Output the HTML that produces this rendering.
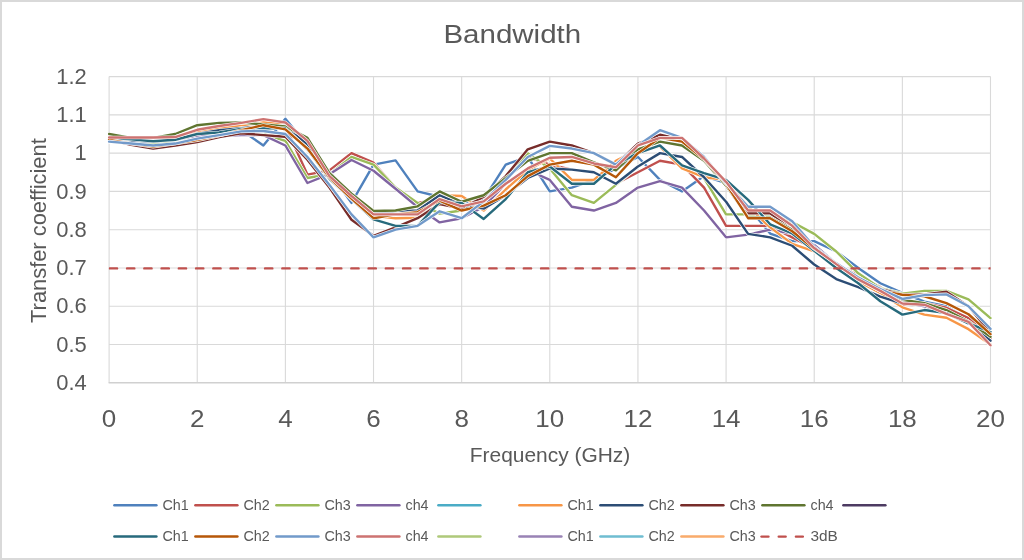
<!DOCTYPE html><html><head><meta charset="utf-8"><style>html,body{margin:0;padding:0;background:#fff;overflow:hidden}svg{display:block;will-change:transform}</style></head><body><svg width="1024" height="560" viewBox="0 0 1024 560">
<rect x="0" y="0" width="1024" height="560" fill="#ffffff"/>
<rect x="1" y="1" width="1022" height="558" fill="none" stroke="#d9d9d9" stroke-width="2"/>
<path d="M109.10 76.60H990.50M109.10 114.87H990.50M109.10 153.14H990.50M109.10 191.41H990.50M109.10 229.68H990.50M109.10 267.95H990.50M109.10 306.22H990.50M109.10 344.49H990.50M109.10 76.60V382.76M197.24 76.60V382.76M285.38 76.60V382.76M373.52 76.60V382.76M461.66 76.60V382.76M549.80 76.60V382.76M637.94 76.60V382.76M726.08 76.60V382.76M814.22 76.60V382.76M902.36 76.60V382.76M990.50 76.60V382.76" stroke="#d9d9d9" stroke-width="1.1" fill="none"/>
<path d="M108.60 382.76H990.50" stroke="#d0d0d0" stroke-width="1.3" fill="none"/>
<g fill="none" stroke-linejoin="round" stroke-linecap="round">
<polyline points="109.10,141.66 131.13,143.57 153.17,145.49 175.20,141.66 197.24,135.92 219.27,134.00 241.31,130.18 263.35,145.49 285.38,118.70 307.41,145.49 329.45,172.27 351.49,202.89 373.52,164.62 395.55,160.41 417.59,191.41 439.62,196.77 461.66,204.80 483.70,199.06 505.73,164.62 527.76,156.97 549.80,191.41 571.84,187.58 593.87,179.93 615.90,168.45 637.94,156.97 659.98,179.93 682.01,191.41 704.05,176.10 726.08,182.99 748.12,206.72 770.15,233.51 792.19,241.16 814.22,241.16 836.25,251.49 858.29,267.95 880.33,283.26 902.36,292.83 924.39,301.63 946.43,306.22 968.47,319.61 990.50,336.84" stroke="#ffffff" stroke-width="3.5999999999999996"/>
<polyline points="109.10,141.66 131.13,143.57 153.17,145.49 175.20,141.66 197.24,135.92 219.27,134.00 241.31,130.18 263.35,145.49 285.38,118.70 307.41,145.49 329.45,172.27 351.49,202.89 373.52,164.62 395.55,160.41 417.59,191.41 439.62,196.77 461.66,204.80 483.70,199.06 505.73,164.62 527.76,156.97 549.80,191.41 571.84,187.58 593.87,179.93 615.90,168.45 637.94,156.97 659.98,179.93 682.01,191.41 704.05,176.10 726.08,182.99 748.12,206.72 770.15,233.51 792.19,241.16 814.22,241.16 836.25,251.49 858.29,267.95 880.33,283.26 902.36,292.83 924.39,301.63 946.43,306.22 968.47,319.61 990.50,336.84" stroke="#4F81BD" stroke-width="2.4"/>
<polyline points="109.10,137.83 131.13,137.83 153.17,137.83 175.20,137.83 197.24,130.18 219.27,128.26 241.31,126.35 263.35,124.44 285.38,126.35 307.41,174.57 329.45,170.36 351.49,153.14 373.52,162.71 395.55,187.58 417.59,202.89 439.62,199.06 461.66,206.34 483.70,202.89 505.73,179.93 527.76,156.97 549.80,164.62 571.84,169.60 593.87,172.27 615.90,183.76 637.94,172.27 659.98,160.79 682.01,164.62 704.05,187.58 726.08,225.85 748.12,225.85 770.15,225.85 792.19,237.33 814.22,248.81 836.25,264.12 858.29,275.60 880.33,287.08 902.36,305.07 924.39,303.16 946.43,307.75 968.47,318.08 990.50,338.75" stroke="#ffffff" stroke-width="3.5999999999999996"/>
<polyline points="109.10,137.83 131.13,137.83 153.17,137.83 175.20,137.83 197.24,130.18 219.27,128.26 241.31,126.35 263.35,124.44 285.38,126.35 307.41,174.57 329.45,170.36 351.49,153.14 373.52,162.71 395.55,187.58 417.59,202.89 439.62,199.06 461.66,206.34 483.70,202.89 505.73,179.93 527.76,156.97 549.80,164.62 571.84,169.60 593.87,172.27 615.90,183.76 637.94,172.27 659.98,160.79 682.01,164.62 704.05,187.58 726.08,225.85 748.12,225.85 770.15,225.85 792.19,237.33 814.22,248.81 836.25,264.12 858.29,275.60 880.33,287.08 902.36,305.07 924.39,303.16 946.43,307.75 968.47,318.08 990.50,338.75" stroke="#C0504D" stroke-width="2.4"/>
<polyline points="109.10,137.83 131.13,141.66 153.17,143.57 175.20,141.66 197.24,135.92 219.27,134.00 241.31,134.00 263.35,134.00 285.38,140.89 307.41,178.02 329.45,174.19 351.49,156.97 373.52,164.62 395.55,187.58 417.59,202.89 439.62,213.61 461.66,210.54 483.70,202.89 505.73,179.93 527.76,153.14 549.80,168.45 571.84,195.24 593.87,202.89 615.90,184.90 637.94,166.53 659.98,153.14 682.01,156.97 704.05,178.02 726.08,214.37 748.12,214.37 770.15,214.37 792.19,222.03 814.22,233.89 836.25,251.49 858.29,273.31 880.33,288.23 902.36,293.59 924.39,290.91 946.43,290.91 968.47,299.33 990.50,318.08" stroke="#ffffff" stroke-width="3.5999999999999996"/>
<polyline points="109.10,137.83 131.13,141.66 153.17,143.57 175.20,141.66 197.24,135.92 219.27,134.00 241.31,134.00 263.35,134.00 285.38,140.89 307.41,178.02 329.45,174.19 351.49,156.97 373.52,164.62 395.55,187.58 417.59,202.89 439.62,213.61 461.66,210.54 483.70,202.89 505.73,179.93 527.76,153.14 549.80,168.45 571.84,195.24 593.87,202.89 615.90,184.90 637.94,166.53 659.98,153.14 682.01,156.97 704.05,178.02 726.08,214.37 748.12,214.37 770.15,214.37 792.19,222.03 814.22,233.89 836.25,251.49 858.29,273.31 880.33,288.23 902.36,293.59 924.39,290.91 946.43,290.91 968.47,299.33 990.50,318.08" stroke="#9BBB59" stroke-width="2.4"/>
<polyline points="109.10,139.75 131.13,139.75 153.17,139.75 175.20,139.75 197.24,135.92 219.27,135.92 241.31,135.15 263.35,135.15 285.38,145.49 307.41,182.99 329.45,174.19 351.49,160.03 373.52,170.74 395.55,188.73 417.59,207.10 439.62,222.41 461.66,218.20 483.70,206.72 505.73,183.76 527.76,169.98 549.80,179.93 571.84,206.72 593.87,210.54 615.90,202.89 637.94,187.58 659.98,181.08 682.01,187.58 704.05,210.54 726.08,237.33 748.12,234.66 770.15,229.68 792.19,233.51 814.22,244.99 836.25,263.36 858.29,277.52 880.33,290.91 902.36,302.39 924.39,306.22 946.43,311.96 968.47,321.53 990.50,340.66" stroke="#ffffff" stroke-width="3.5999999999999996"/>
<polyline points="109.10,139.75 131.13,139.75 153.17,139.75 175.20,139.75 197.24,135.92 219.27,135.92 241.31,135.15 263.35,135.15 285.38,145.49 307.41,182.99 329.45,174.19 351.49,160.03 373.52,170.74 395.55,188.73 417.59,207.10 439.62,222.41 461.66,218.20 483.70,206.72 505.73,183.76 527.76,169.98 549.80,179.93 571.84,206.72 593.87,210.54 615.90,202.89 637.94,187.58 659.98,181.08 682.01,187.58 704.05,210.54 726.08,237.33 748.12,234.66 770.15,229.68 792.19,233.51 814.22,244.99 836.25,263.36 858.29,277.52 880.33,290.91 902.36,302.39 924.39,306.22 946.43,311.96 968.47,321.53 990.50,340.66" stroke="#8064A2" stroke-width="2.4"/>
<polyline points="109.10,137.45 131.13,137.45 153.17,137.83 175.20,137.45 197.24,131.71 219.27,128.26 241.31,125.20 263.35,122.52 285.38,123.67 307.41,145.49 329.45,176.10 351.49,197.15 373.52,215.90 395.55,218.20 417.59,217.82 439.62,195.24 461.66,196.00 483.70,210.54 505.73,189.50 527.76,169.98 549.80,158.50 571.84,179.93 593.87,179.93 615.90,160.79 637.94,149.31 659.98,146.63 682.01,168.45 704.05,177.25 726.08,179.93 748.12,206.72 770.15,227.38 792.19,243.84 814.22,251.49 836.25,266.04 858.29,281.34 880.33,292.83 902.36,307.37 924.39,314.64 946.43,317.70 968.47,329.18 990.50,344.49" stroke="#ffffff" stroke-width="3.5999999999999996"/>
<polyline points="109.10,137.45 131.13,137.45 153.17,137.83 175.20,137.45 197.24,131.71 219.27,128.26 241.31,125.20 263.35,122.52 285.38,123.67 307.41,145.49 329.45,176.10 351.49,197.15 373.52,215.90 395.55,218.20 417.59,217.82 439.62,195.24 461.66,196.00 483.70,210.54 505.73,189.50 527.76,169.98 549.80,158.50 571.84,179.93 593.87,179.93 615.90,160.79 637.94,149.31 659.98,146.63 682.01,168.45 704.05,177.25 726.08,179.93 748.12,206.72 770.15,227.38 792.19,243.84 814.22,251.49 836.25,266.04 858.29,281.34 880.33,292.83 902.36,307.37 924.39,314.64 946.43,317.70 968.47,329.18 990.50,344.49" stroke="#F79646" stroke-width="2.4"/>
<polyline points="109.10,139.75 131.13,140.89 153.17,141.66 175.20,139.75 197.24,134.00 219.27,130.18 241.31,128.26 263.35,126.35 285.38,125.97 307.41,144.34 329.45,172.27 351.49,195.24 373.52,212.08 395.55,211.31 417.59,210.54 439.62,195.24 461.66,204.80 483.70,208.63 505.73,195.24 527.76,178.02 549.80,168.45 571.84,169.60 593.87,172.27 615.90,183.76 637.94,166.53 659.98,153.14 682.01,156.97 704.05,177.25 726.08,201.74 748.12,233.89 770.15,237.33 792.19,245.75 814.22,264.51 836.25,279.05 858.29,287.08 880.33,296.65 902.36,303.54 924.39,304.69 946.43,311.96 968.47,321.53 990.50,340.66" stroke="#ffffff" stroke-width="3.5999999999999996"/>
<polyline points="109.10,139.75 131.13,140.89 153.17,141.66 175.20,139.75 197.24,134.00 219.27,130.18 241.31,128.26 263.35,126.35 285.38,125.97 307.41,144.34 329.45,172.27 351.49,195.24 373.52,212.08 395.55,211.31 417.59,210.54 439.62,195.24 461.66,204.80 483.70,208.63 505.73,195.24 527.76,178.02 549.80,168.45 571.84,169.60 593.87,172.27 615.90,183.76 637.94,166.53 659.98,153.14 682.01,156.97 704.05,177.25 726.08,201.74 748.12,233.89 770.15,237.33 792.19,245.75 814.22,264.51 836.25,279.05 858.29,287.08 880.33,296.65 902.36,303.54 924.39,304.69 946.43,311.96 968.47,321.53 990.50,340.66" stroke="#2C4D75" stroke-width="2.4"/>
<polyline points="109.10,139.75 131.13,144.72 153.17,148.55 175.20,145.49 197.24,142.04 219.27,137.07 241.31,133.24 263.35,135.15 285.38,136.68 307.41,159.65 329.45,187.58 351.49,219.73 373.52,235.80 395.55,227.38 417.59,218.20 439.62,204.04 461.66,208.63 483.70,196.77 505.73,176.10 527.76,149.31 549.80,141.66 571.84,145.49 593.87,153.14 615.90,164.62 637.94,143.57 659.98,134.77 682.01,139.75 704.05,158.88 726.08,183.76 748.12,213.22 770.15,213.22 792.19,229.68 814.22,248.81 836.25,263.36 858.29,277.52 880.33,289.00 902.36,294.74 924.39,294.36 946.43,291.68 968.47,306.22 990.50,333.01" stroke="#ffffff" stroke-width="3.5999999999999996"/>
<polyline points="109.10,139.75 131.13,144.72 153.17,148.55 175.20,145.49 197.24,142.04 219.27,137.07 241.31,133.24 263.35,135.15 285.38,136.68 307.41,159.65 329.45,187.58 351.49,219.73 373.52,235.80 395.55,227.38 417.59,218.20 439.62,204.04 461.66,208.63 483.70,196.77 505.73,176.10 527.76,149.31 549.80,141.66 571.84,145.49 593.87,153.14 615.90,164.62 637.94,143.57 659.98,134.77 682.01,139.75 704.05,158.88 726.08,183.76 748.12,213.22 770.15,213.22 792.19,229.68 814.22,248.81 836.25,263.36 858.29,277.52 880.33,289.00 902.36,294.74 924.39,294.36 946.43,291.68 968.47,306.22 990.50,333.01" stroke="#772C2A" stroke-width="2.4"/>
<polyline points="109.10,134.00 131.13,137.83 153.17,137.83 175.20,134.00 197.24,125.20 219.27,122.91 241.31,122.52 263.35,124.44 285.38,126.35 307.41,137.83 329.45,173.04 351.49,193.71 373.52,210.93 395.55,210.54 417.59,206.34 439.62,191.41 461.66,201.74 483.70,195.24 505.73,178.02 527.76,160.79 549.80,153.14 571.84,153.14 593.87,162.32 615.90,170.36 637.94,149.31 659.98,141.66 682.01,145.49 704.05,160.79 726.08,185.67 748.12,217.43 770.15,217.43 792.19,229.68 814.22,248.81 836.25,264.12 858.29,279.43 880.33,290.91 902.36,299.71 924.39,303.16 946.43,310.05 968.47,321.53 990.50,336.84" stroke="#ffffff" stroke-width="3.5999999999999996"/>
<polyline points="109.10,134.00 131.13,137.83 153.17,137.83 175.20,134.00 197.24,125.20 219.27,122.91 241.31,122.52 263.35,124.44 285.38,126.35 307.41,137.83 329.45,173.04 351.49,193.71 373.52,210.93 395.55,210.54 417.59,206.34 439.62,191.41 461.66,201.74 483.70,195.24 505.73,178.02 527.76,160.79 549.80,153.14 571.84,153.14 593.87,162.32 615.90,170.36 637.94,149.31 659.98,141.66 682.01,145.49 704.05,160.79 726.08,185.67 748.12,217.43 770.15,217.43 792.19,229.68 814.22,248.81 836.25,264.12 858.29,279.43 880.33,290.91 902.36,299.71 924.39,303.16 946.43,310.05 968.47,321.53 990.50,336.84" stroke="#5F7530" stroke-width="2.4"/>
<polyline points="109.10,137.83 131.13,139.36 153.17,141.28 175.20,139.75 197.24,134.00 219.27,132.47 241.31,129.03 263.35,128.26 285.38,128.26 307.41,149.31 329.45,178.78 351.49,199.06 373.52,219.35 395.55,225.85 417.59,225.85 439.62,202.13 461.66,202.89 483.70,218.96 505.73,199.06 527.76,172.27 549.80,166.53 571.84,183.76 593.87,183.76 615.90,164.62 637.94,153.14 659.98,145.49 682.01,165.39 704.05,173.04 726.08,179.93 748.12,199.83 770.15,224.32 792.19,233.51 814.22,250.73 836.25,267.95 858.29,283.26 880.33,301.24 902.36,314.64 924.39,310.05 946.43,313.11 968.47,323.44 990.50,331.86" stroke="#ffffff" stroke-width="3.5999999999999996"/>
<polyline points="109.10,137.83 131.13,139.36 153.17,141.28 175.20,139.75 197.24,134.00 219.27,132.47 241.31,129.03 263.35,128.26 285.38,128.26 307.41,149.31 329.45,178.78 351.49,199.06 373.52,219.35 395.55,225.85 417.59,225.85 439.62,202.13 461.66,202.89 483.70,218.96 505.73,199.06 527.76,172.27 549.80,166.53 571.84,183.76 593.87,183.76 615.90,164.62 637.94,153.14 659.98,145.49 682.01,165.39 704.05,173.04 726.08,179.93 748.12,199.83 770.15,224.32 792.19,233.51 814.22,250.73 836.25,267.95 858.29,283.26 880.33,301.24 902.36,314.64 924.39,310.05 946.43,313.11 968.47,323.44 990.50,331.86" stroke="#276A7C" stroke-width="2.4"/>
<polyline points="109.10,139.75 131.13,143.57 153.17,146.63 175.20,143.57 197.24,140.13 219.27,135.54 241.31,130.18 263.35,125.20 285.38,129.41 307.41,148.55 329.45,177.63 351.49,198.68 373.52,218.20 395.55,214.37 417.59,212.08 439.62,200.59 461.66,210.54 483.70,205.57 505.73,195.24 527.76,176.10 549.80,164.62 571.84,160.79 593.87,164.62 615.90,177.25 637.94,153.14 659.98,137.83 682.01,141.66 704.05,159.26 726.08,183.76 748.12,218.20 770.15,218.20 792.19,231.21 814.22,248.81 836.25,263.36 858.29,278.67 880.33,290.91 902.36,294.74 924.39,296.27 946.43,303.16 968.47,314.26 990.50,334.16" stroke="#ffffff" stroke-width="3.5999999999999996"/>
<polyline points="109.10,139.75 131.13,143.57 153.17,146.63 175.20,143.57 197.24,140.13 219.27,135.54 241.31,130.18 263.35,125.20 285.38,129.41 307.41,148.55 329.45,177.63 351.49,198.68 373.52,218.20 395.55,214.37 417.59,212.08 439.62,200.59 461.66,210.54 483.70,205.57 505.73,195.24 527.76,176.10 549.80,164.62 571.84,160.79 593.87,164.62 615.90,177.25 637.94,153.14 659.98,137.83 682.01,141.66 704.05,159.26 726.08,183.76 748.12,218.20 770.15,218.20 792.19,231.21 814.22,248.81 836.25,263.36 858.29,278.67 880.33,290.91 902.36,294.74 924.39,296.27 946.43,303.16 968.47,314.26 990.50,334.16" stroke="#B65708" stroke-width="2.4"/>
<polyline points="109.10,141.66 131.13,143.57 153.17,145.49 175.20,143.57 197.24,138.60 219.27,135.15 241.31,131.33 263.35,130.94 285.38,134.00 307.41,156.97 329.45,184.90 351.49,214.37 373.52,237.33 395.55,229.68 417.59,225.85 439.62,211.31 461.66,218.20 483.70,201.36 505.73,179.93 527.76,156.97 549.80,145.87 571.84,148.55 593.87,153.14 615.90,164.62 637.94,145.49 659.98,130.18 682.01,137.83 704.05,156.97 726.08,182.99 748.12,206.72 770.15,206.72 792.19,221.26 814.22,246.90 836.25,263.36 858.29,277.52 880.33,289.00 902.36,298.95 924.39,295.12 946.43,294.36 968.47,306.22 990.50,328.80" stroke="#ffffff" stroke-width="3.5999999999999996"/>
<polyline points="109.10,141.66 131.13,143.57 153.17,145.49 175.20,143.57 197.24,138.60 219.27,135.15 241.31,131.33 263.35,130.94 285.38,134.00 307.41,156.97 329.45,184.90 351.49,214.37 373.52,237.33 395.55,229.68 417.59,225.85 439.62,211.31 461.66,218.20 483.70,201.36 505.73,179.93 527.76,156.97 549.80,145.87 571.84,148.55 593.87,153.14 615.90,164.62 637.94,145.49 659.98,130.18 682.01,137.83 704.05,156.97 726.08,182.99 748.12,206.72 770.15,206.72 792.19,221.26 814.22,246.90 836.25,263.36 858.29,277.52 880.33,289.00 902.36,298.95 924.39,295.12 946.43,294.36 968.47,306.22 990.50,328.80" stroke="#729ACA" stroke-width="2.4"/>
<polyline points="109.10,137.45 131.13,137.45 153.17,137.45 175.20,137.07 197.24,129.80 219.27,125.97 241.31,122.91 263.35,119.08 285.38,122.52 307.41,140.89 329.45,176.10 351.49,196.00 373.52,214.37 395.55,214.37 417.59,214.37 439.62,199.06 461.66,206.34 483.70,201.36 505.73,183.76 527.76,168.45 549.80,157.73 571.84,156.97 593.87,163.47 615.90,167.30 637.94,145.49 659.98,137.83 682.01,137.83 704.05,158.50 726.08,181.84 748.12,210.54 770.15,210.54 792.19,225.85 814.22,248.05 836.25,264.12 858.29,279.43 880.33,290.91 902.36,303.54 924.39,304.69 946.43,313.87 968.47,321.91 990.50,345.26" stroke="#ffffff" stroke-width="3.5999999999999996"/>
<polyline points="109.10,137.45 131.13,137.45 153.17,137.45 175.20,137.07 197.24,129.80 219.27,125.97 241.31,122.91 263.35,119.08 285.38,122.52 307.41,140.89 329.45,176.10 351.49,196.00 373.52,214.37 395.55,214.37 417.59,214.37 439.62,199.06 461.66,206.34 483.70,201.36 505.73,183.76 527.76,168.45 549.80,157.73 571.84,156.97 593.87,163.47 615.90,167.30 637.94,145.49 659.98,137.83 682.01,137.83 704.05,158.50 726.08,181.84 748.12,210.54 770.15,210.54 792.19,225.85 814.22,248.05 836.25,264.12 858.29,279.43 880.33,290.91 902.36,303.54 924.39,304.69 946.43,313.87 968.47,321.91 990.50,345.26" stroke="#CD7371" stroke-width="2.4"/>
</g>
<clipPath id="pc"><rect x="108.6" y="60" width="882" height="330"/></clipPath>
<path clip-path="url(#pc)" d="M109.8 268.40H998.50" stroke="#C0504D" stroke-width="2.4" stroke-dasharray="7.3 9.95" stroke-linecap="round" fill="none"/>
<text x="512.3" y="42.9" font-family="Liberation Sans, sans-serif" font-size="26.5" fill="#595959" text-anchor="middle" textLength="137.8" lengthAdjust="spacingAndGlyphs">Bandwidth</text>
<text x="86.8" y="83.80" font-family="Liberation Sans, sans-serif" font-size="21.3" fill="#595959" text-anchor="end" textLength="30.50" lengthAdjust="spacingAndGlyphs">1.2</text>
<text x="86.8" y="122.07" font-family="Liberation Sans, sans-serif" font-size="21.3" fill="#595959" text-anchor="end" textLength="30.50" lengthAdjust="spacingAndGlyphs">1.1</text>
<text x="86.8" y="160.34" font-family="Liberation Sans, sans-serif" font-size="21.3" fill="#595959" text-anchor="end" textLength="12.20" lengthAdjust="spacingAndGlyphs">1</text>
<text x="86.8" y="198.61" font-family="Liberation Sans, sans-serif" font-size="21.3" fill="#595959" text-anchor="end" textLength="30.50" lengthAdjust="spacingAndGlyphs">0.9</text>
<text x="86.8" y="236.88" font-family="Liberation Sans, sans-serif" font-size="21.3" fill="#595959" text-anchor="end" textLength="30.50" lengthAdjust="spacingAndGlyphs">0.8</text>
<text x="86.8" y="275.15" font-family="Liberation Sans, sans-serif" font-size="21.3" fill="#595959" text-anchor="end" textLength="30.50" lengthAdjust="spacingAndGlyphs">0.7</text>
<text x="86.8" y="313.42" font-family="Liberation Sans, sans-serif" font-size="21.3" fill="#595959" text-anchor="end" textLength="30.50" lengthAdjust="spacingAndGlyphs">0.6</text>
<text x="86.8" y="351.69" font-family="Liberation Sans, sans-serif" font-size="21.3" fill="#595959" text-anchor="end" textLength="30.50" lengthAdjust="spacingAndGlyphs">0.5</text>
<text x="86.8" y="389.96" font-family="Liberation Sans, sans-serif" font-size="21.3" fill="#595959" text-anchor="end" textLength="30.50" lengthAdjust="spacingAndGlyphs">0.4</text>
<text x="109.10" y="426.9" font-family="Liberation Sans, sans-serif" font-size="24.3" fill="#595959" text-anchor="middle" textLength="14.46" lengthAdjust="spacingAndGlyphs">0</text>
<text x="197.24" y="426.9" font-family="Liberation Sans, sans-serif" font-size="24.3" fill="#595959" text-anchor="middle" textLength="14.46" lengthAdjust="spacingAndGlyphs">2</text>
<text x="285.38" y="426.9" font-family="Liberation Sans, sans-serif" font-size="24.3" fill="#595959" text-anchor="middle" textLength="14.46" lengthAdjust="spacingAndGlyphs">4</text>
<text x="373.52" y="426.9" font-family="Liberation Sans, sans-serif" font-size="24.3" fill="#595959" text-anchor="middle" textLength="14.46" lengthAdjust="spacingAndGlyphs">6</text>
<text x="461.66" y="426.9" font-family="Liberation Sans, sans-serif" font-size="24.3" fill="#595959" text-anchor="middle" textLength="14.46" lengthAdjust="spacingAndGlyphs">8</text>
<text x="549.80" y="426.9" font-family="Liberation Sans, sans-serif" font-size="24.3" fill="#595959" text-anchor="middle" textLength="28.91" lengthAdjust="spacingAndGlyphs">10</text>
<text x="637.94" y="426.9" font-family="Liberation Sans, sans-serif" font-size="24.3" fill="#595959" text-anchor="middle" textLength="28.91" lengthAdjust="spacingAndGlyphs">12</text>
<text x="726.08" y="426.9" font-family="Liberation Sans, sans-serif" font-size="24.3" fill="#595959" text-anchor="middle" textLength="28.91" lengthAdjust="spacingAndGlyphs">14</text>
<text x="814.22" y="426.9" font-family="Liberation Sans, sans-serif" font-size="24.3" fill="#595959" text-anchor="middle" textLength="28.91" lengthAdjust="spacingAndGlyphs">16</text>
<text x="902.36" y="426.9" font-family="Liberation Sans, sans-serif" font-size="24.3" fill="#595959" text-anchor="middle" textLength="28.91" lengthAdjust="spacingAndGlyphs">18</text>
<text x="990.50" y="426.9" font-family="Liberation Sans, sans-serif" font-size="24.3" fill="#595959" text-anchor="middle" textLength="28.91" lengthAdjust="spacingAndGlyphs">20</text>
<text transform="translate(45.7 230.6) rotate(-90)" x="0" y="0" font-family="Liberation Sans, sans-serif" font-size="22.8" fill="#595959" text-anchor="middle" textLength="184.7" lengthAdjust="spacingAndGlyphs">Transfer coefficient</text>
<text x="550" y="462.2" font-family="Liberation Sans, sans-serif" font-size="20.3" fill="#595959" text-anchor="middle" textLength="160.5" lengthAdjust="spacingAndGlyphs">Frequency (GHz)</text>
<path d="M114.40 505.2H156.40" stroke="#4F81BD" stroke-width="2.5" stroke-linecap="round" fill="none"/>
<text x="162.50" y="510.20" font-family="Liberation Sans, sans-serif" font-size="15.4" fill="#595959" textLength="26.27" lengthAdjust="spacingAndGlyphs">Ch1</text>
<path d="M195.40 505.2H237.40" stroke="#C0504D" stroke-width="2.5" stroke-linecap="round" fill="none"/>
<text x="243.50" y="510.20" font-family="Liberation Sans, sans-serif" font-size="15.4" fill="#595959" textLength="26.27" lengthAdjust="spacingAndGlyphs">Ch2</text>
<path d="M276.40 505.2H318.40" stroke="#9BBB59" stroke-width="2.5" stroke-linecap="round" fill="none"/>
<text x="324.50" y="510.20" font-family="Liberation Sans, sans-serif" font-size="15.4" fill="#595959" textLength="26.27" lengthAdjust="spacingAndGlyphs">Ch3</text>
<path d="M357.40 505.2H399.40" stroke="#8064A2" stroke-width="2.5" stroke-linecap="round" fill="none"/>
<text x="405.50" y="510.20" font-family="Liberation Sans, sans-serif" font-size="15.4" fill="#595959" textLength="23.09" lengthAdjust="spacingAndGlyphs">ch4</text>
<path d="M438.40 505.2H480.40" stroke="#4BACC6" stroke-width="2.5" stroke-linecap="round" fill="none"/>
<path d="M519.40 505.2H561.40" stroke="#F79646" stroke-width="2.5" stroke-linecap="round" fill="none"/>
<text x="567.50" y="510.20" font-family="Liberation Sans, sans-serif" font-size="15.4" fill="#595959" textLength="26.27" lengthAdjust="spacingAndGlyphs">Ch1</text>
<path d="M600.40 505.2H642.40" stroke="#2C4D75" stroke-width="2.5" stroke-linecap="round" fill="none"/>
<text x="648.50" y="510.20" font-family="Liberation Sans, sans-serif" font-size="15.4" fill="#595959" textLength="26.27" lengthAdjust="spacingAndGlyphs">Ch2</text>
<path d="M681.40 505.2H723.40" stroke="#772C2A" stroke-width="2.5" stroke-linecap="round" fill="none"/>
<text x="729.50" y="510.20" font-family="Liberation Sans, sans-serif" font-size="15.4" fill="#595959" textLength="26.27" lengthAdjust="spacingAndGlyphs">Ch3</text>
<path d="M762.40 505.2H804.40" stroke="#5F7530" stroke-width="2.5" stroke-linecap="round" fill="none"/>
<text x="810.50" y="510.20" font-family="Liberation Sans, sans-serif" font-size="15.4" fill="#595959" textLength="23.09" lengthAdjust="spacingAndGlyphs">ch4</text>
<path d="M843.40 505.2H885.40" stroke="#4D3B62" stroke-width="2.5" stroke-linecap="round" fill="none"/>
<path d="M114.40 536.4H156.40" stroke="#276A7C" stroke-width="2.5" stroke-linecap="round" fill="none"/>
<text x="162.50" y="541.40" font-family="Liberation Sans, sans-serif" font-size="15.4" fill="#595959" textLength="26.27" lengthAdjust="spacingAndGlyphs">Ch1</text>
<path d="M195.40 536.4H237.40" stroke="#B65708" stroke-width="2.5" stroke-linecap="round" fill="none"/>
<text x="243.50" y="541.40" font-family="Liberation Sans, sans-serif" font-size="15.4" fill="#595959" textLength="26.27" lengthAdjust="spacingAndGlyphs">Ch2</text>
<path d="M276.40 536.4H318.40" stroke="#729ACA" stroke-width="2.5" stroke-linecap="round" fill="none"/>
<text x="324.50" y="541.40" font-family="Liberation Sans, sans-serif" font-size="15.4" fill="#595959" textLength="26.27" lengthAdjust="spacingAndGlyphs">Ch3</text>
<path d="M357.40 536.4H399.40" stroke="#CD7371" stroke-width="2.5" stroke-linecap="round" fill="none"/>
<text x="405.50" y="541.40" font-family="Liberation Sans, sans-serif" font-size="15.4" fill="#595959" textLength="23.09" lengthAdjust="spacingAndGlyphs">ch4</text>
<path d="M438.40 536.4H480.40" stroke="#AFC97A" stroke-width="2.5" stroke-linecap="round" fill="none"/>
<path d="M519.40 536.4H561.40" stroke="#9983B5" stroke-width="2.5" stroke-linecap="round" fill="none"/>
<text x="567.50" y="541.40" font-family="Liberation Sans, sans-serif" font-size="15.4" fill="#595959" textLength="26.27" lengthAdjust="spacingAndGlyphs">Ch1</text>
<path d="M600.40 536.4H642.40" stroke="#6FBDD1" stroke-width="2.5" stroke-linecap="round" fill="none"/>
<text x="648.50" y="541.40" font-family="Liberation Sans, sans-serif" font-size="15.4" fill="#595959" textLength="26.27" lengthAdjust="spacingAndGlyphs">Ch2</text>
<path d="M681.40 536.4H723.40" stroke="#F9AB6B" stroke-width="2.5" stroke-linecap="round" fill="none"/>
<text x="729.50" y="541.40" font-family="Liberation Sans, sans-serif" font-size="15.4" fill="#595959" textLength="26.27" lengthAdjust="spacingAndGlyphs">Ch3</text>
<path d="M761.50 536.6H805.30" stroke="#C0504D" stroke-width="2.4" stroke-dasharray="7.0 10.2" stroke-linecap="round" fill="none"/>
<text x="810.50" y="541.40" font-family="Liberation Sans, sans-serif" font-size="15.4" fill="#595959" textLength="27.40" lengthAdjust="spacingAndGlyphs">3dB</text>
</svg></body></html>
